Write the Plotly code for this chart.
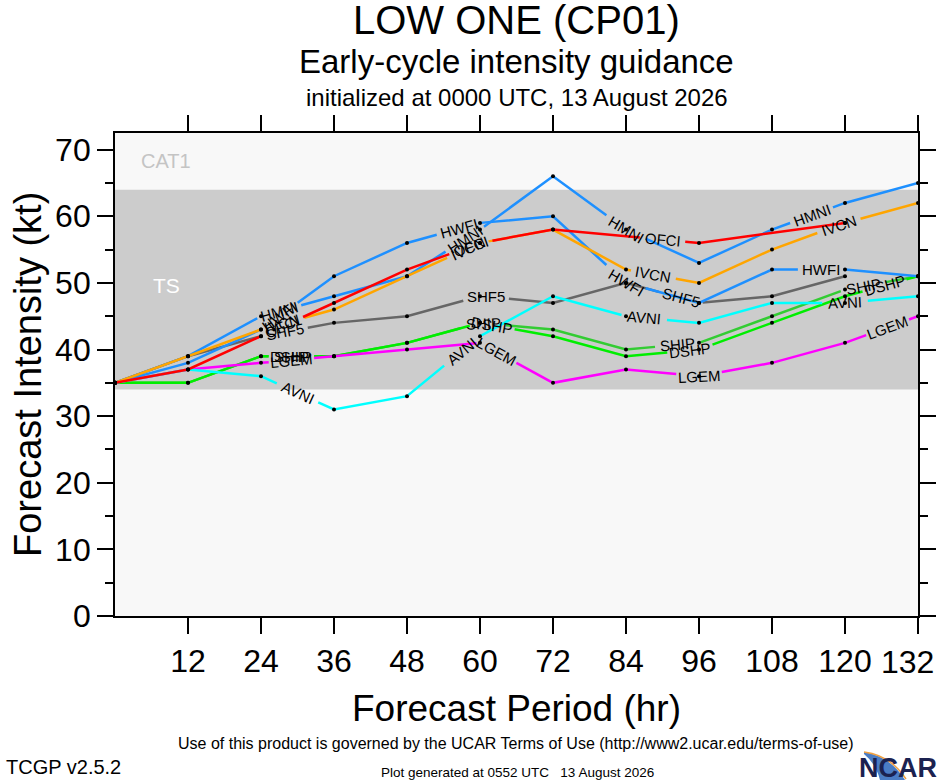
import numpy as np
import plotly.graph_objects as go

# forecast hours and intensity (kt) per model
hours = [0, 12, 24, 36, 48, 60, 72, 84, 96, 108, 120, 132]

HWFI = [35, 38, 43, 51, 56, 59, 60, 50, 47, 52, 52, 51]
HMNI = [35, 39, 45, 48, 51, 58, 66, 58, 53, 58, 62, 65]
OFCI = [35, 37, 42, 47, 52, 56, 58, None, 56, None, 59, None]
IVCN = [35, 39, 43, 46, 51, 56, 58, 52, 50, 55, 59, 62]
SHF5 = [35, 39, 42, 44, 45, 48, 47, 50, 47, 48, 51, None]
SHIP = [35, 35, 39, 39, 41, 44, 43, 40, 41, 45, 49, 51]
DSHP = [35, 35, 39, 39, 41, 44, 42, 39, 40, 44, 48, 51]
LGEM = [35, 37, 38, 39, 40, 41, 35, 37, 36, 38, 41, 45]
AVNI = [35, 37, 36, 31, 33, 42, 48, 45, 44, 47, 47, 48]

xticks = [12, 24, 36, 48, 60, 72, 84, 96, 108, 120, 132]
xtick_txt = ["12", "24", "36", "48", "60", "72", "84", "96", "108", "120", ""]  # 132 va aparte
yticks = [0, 10, 20, 30, 40, 50, 60, 70]

# intensity bands
ts_band = (34, 64)

modelos = [
    ("SHF5", SHF5, "#666666"),
    ("SHIP", SHIP, "#33cc33"),
    ("DSHP", DSHP, "#00ee00"),
    ("LGEM", LGEM, "#ff00ff"),
    ("AVNI", AVNI, "#00ffff"),
    ("HWFI", HWFI, "#1e90ff"),
    ("HMNI", HMNI, "#1e90ff"),
    ("IVCN", IVCN, "#ffa500"),
    ("OFCI", OFCI, "#ff0000"),
]

# where the line labels sit (forecast hour)
pos_etiquetas = {
    "HWFI": [27, 56.5, 84, 116],
    "HMNI": [27, 57.5, 84, 114.5],
    "OFCI": [27.5, 58.5, 90],
    "IVCN": [27.5, 58, 88.5, 119],
    "SHF5": [28, 61, 93],
    "SHIP": [29, 60.5, 92.5, 123],
    "DSHP": [29, 62, 94.5, 126.5],
    "LGEM": [29, 62.7, 96, 127],
    "AVNI": [30, 57, 87, 120],
}

W, H = 940, 780
ML, MR, MT, MB = 115, 22, 133, 164
YMAX = 72.5
pw = W - ML - MR
ph = H - MT - MB
px_h = pw / 132.0   # pixels per hour
px_kt = ph / YMAX   # pixels per kt
fuente = "Liberation Sans"
tam_etq = 15


def px(x):
    return (x - ML) / pw


def py(y):
    return (H - MB - y) / ph


def gapped(h, v, gaps):
    xs, ys = [], []
    pts = sorted(set(list(h) + [g for ab in gaps for g in ab]))
    for p in pts:
        if p < h[0] or p > h[-1]:
            continue
        if any(a < p < b for a, b in gaps):
            continue
        xs.append(p)
        ys.append(float(np.interp(p, h, v)))
        if any(abs(p - a) < 1e-9 for a, b in gaps):
            xs.append(None)
            ys.append(None)
    return xs, ys


fig = go.Figure()
anots = []

for nombre, vals, color in modelos:
    h = np.array([hh for hh, vv in zip(hours, vals) if vv is not None], float)
    v = np.array([vv for vv in vals if vv is not None], float)
    gaps = []
    for hl in pos_etiquetas[nombre]:
        yl = float(np.interp(hl, h, v))
        dv = float(np.interp(hl + 2, h, v) - np.interp(hl - 2, h, v)) / 4.0
        ang = np.degrees(np.arctan(dv * px_kt / px_h))
        half = (len(nombre) * 0.33 * tam_etq + 3) * np.cos(np.radians(ang)) / px_h
        gaps.append((hl - half, hl + half))
        anots.append(dict(x=hl, y=yl, xref="x", yref="y", text=nombre, showarrow=False,
                          textangle=-ang, font=dict(family=fuente, size=tam_etq, color="black")))
    xs, ys = gapped(list(h), list(v), gaps)
    fig.add_trace(go.Scatter(x=xs, y=ys, mode="lines", line=dict(color=color, width=2.5),
                             connectgaps=False, showlegend=False, hoverinfo="skip"))

# puntos negros encima de todas las lineas
for nombre, vals, color in modelos:
    fig.add_trace(go.Scatter(x=hours, y=vals, mode="markers",
                             marker=dict(color="black", size=4), showlegend=False, name=nombre))

fig.add_shape(type="rect", xref="x", yref="y", x0=0, x1=132, y0=ts_band[0], y1=ts_band[1],
              fillcolor="#cccccc", line=dict(width=0), layer="below")

textos = [
    ("LOW ONE (CP01)", 0.5, py(20), 40, "center"),
    ("Early-cycle intensity guidance", 0.5, py(62), 33, "center"),
    ("initialized at 0000 UTC, 13 August 2026", 0.5, py(97), 24, "center"),
    ("Forecast Period (hr)", 0.5, py(708), 37, "center"),
    ("132", px(907), py(662), 32, "center"),
    ("Use of this product is governed by the UCAR Terms of Use (http://www2.ucar.edu/terms-of-use)",
     px(516), py(743), 16, "center"),
    ("Plot generated at 0552 UTC   13 August 2026", px(517), py(772), 13.5, "center"),
]
for t, x, y, s, anc in textos:
    anots.append(dict(text=t, x=x, y=y, xref="paper", yref="paper", showarrow=False,
                      xanchor=anc, yanchor="middle", font=dict(family=fuente, size=s, color="black")))

anots.append(dict(text="TCGP v2.5.2", x=px(4), y=py(767), xref="paper", yref="paper", showarrow=False,
                  xanchor="left", yanchor="middle", font=dict(family=fuente, size=20, color="black")))
anots.append(dict(text="Forecast Intensity (kt)", x=px(28), y=py(375), xref="paper", yref="paper",
                  showarrow=False, textangle=-90, xanchor="center", yanchor="middle",
                  font=dict(family=fuente, size=38, color="black")))
anots.append(dict(text="CAT1", x=3.9, y=68.3, xref="x", yref="y", showarrow=False, xanchor="left",
                  font=dict(family=fuente, size=20, color="#c4c4c4")))
anots.append(dict(text="TS", x=5.9, y=49.6, xref="x", yref="y", showarrow=False, xanchor="left",
                  font=dict(family=fuente, size=21, color="white")))
anots.append(dict(text="<b>NCAR</b>", x=px(939), y=py(768), xref="paper", yref="paper", showarrow=False,
                  xanchor="right", yanchor="middle", font=dict(family=fuente, size=27, color="#1b2250")))

# logo swoosh
fig.add_shape(type="path", xref="paper", yref="paper",
              path="M {} {} Q {} {} {} {} L {} {} Q {} {} {} {} Z".format(
                  px(864), py(752), px(890), py(756), px(905), py(780),
                  px(880), py(780), px(876), py(764), px(864), py(754)),
              fillcolor="#4a7cc4", line=dict(width=0))
fig.add_shape(type="path", xref="paper", yref="paper",
              path="M {} {} Q {} {} {} {}".format(
                  px(864), py(752), px(890), py(755), px(906), py(779)),
              line=dict(color="#f0a040", width=1.5))

fig.update_layout(
    width=W, height=H,
    margin=dict(l=ML, r=MR, t=MT, b=MB, autoexpand=False),
    paper_bgcolor="white",
    plot_bgcolor="#f8f8f8",
    annotations=anots,
    font=dict(family=fuente, color="black"),
)
fig.update_xaxes(range=[0, 132], tickvals=xticks, ticktext=xtick_txt, ticks="outside", ticklen=16,
                 tickwidth=1.5, tickcolor="black", showline=True, linecolor="black", linewidth=1.8,
                 mirror="allticks", showgrid=False, zeroline=False, automargin=False,
                 tickfont=dict(size=32, family=fuente))
fig.update_yaxes(range=[0, YMAX], tickvals=yticks, ticks="outside", ticklen=16, tickwidth=1.5,
                 tickcolor="black", showline=True, linecolor="black", linewidth=1.8, mirror="allticks",
                 showgrid=False, zeroline=False, automargin=False, tickfont=dict(size=32, family=fuente),
                 minor=dict(tickvals=[5, 15, 25, 35, 45, 55, 65], ticks="outside", ticklen=8,
                            tickcolor="black", tickwidth=1.5))

fig.write_html("out.html", config={"displayModeBar": False},
               post_script="document.body.style.margin='0';document.body.style.overflow='hidden';")
